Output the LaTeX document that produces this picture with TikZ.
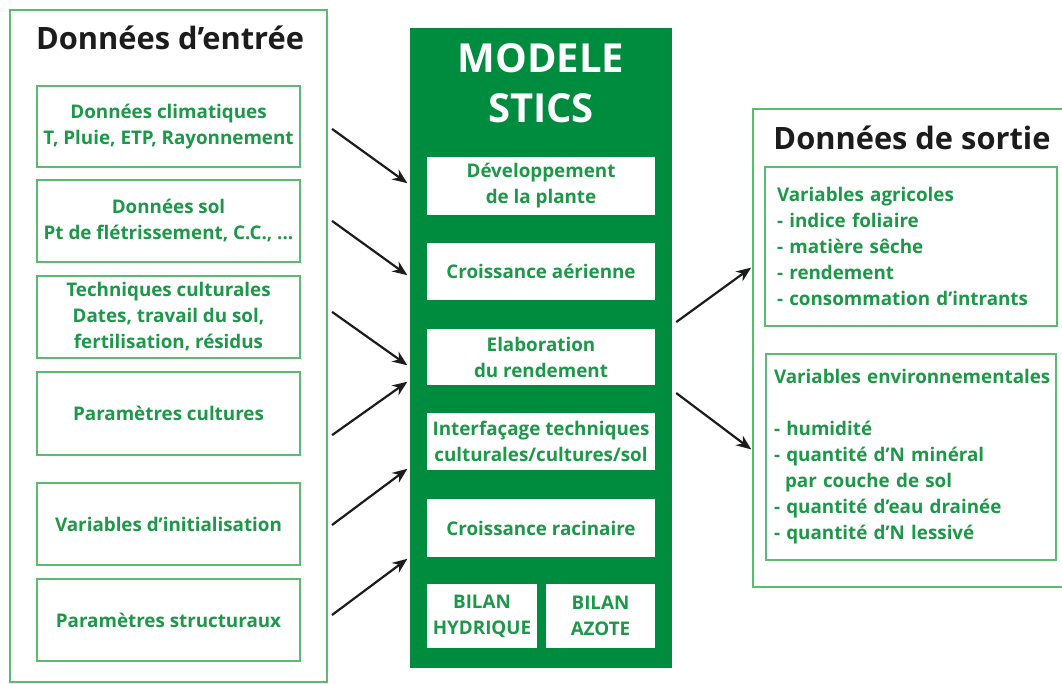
\documentclass[tikz,border=0pt]{standalone}
\usepackage{fontspec}
\setmainfont{Open Sans}
\usetikzlibrary{arrows.meta}
\definecolor{dgreen}{RGB}{0,140,62}
\definecolor{tgreen}{RGB}{28,152,72}
\definecolor{lgreen}{RGB}{90,188,112}
\definecolor{ink}{RGB}{28,28,28}
\tikzset{
  outerbox/.style={draw=lgreen, line width=2pt, rectangle, inner sep=0pt},
  inbox/.style={draw=lgreen, line width=1.4pt, fill=white, text=tgreen, rectangle, inner sep=0pt,
    font=\bfseries\fontsize{18.8}{26}\selectfont, align=center},
  modbox/.style={fill=white, text=tgreen, rectangle, inner sep=0pt,
    font=\bfseries\fontsize{18.8}{26}\selectfont, align=center},
  headtxt/.style={text=ink, font=\bfseries\fontsize{30.8}{34}\selectfont, inner sep=0pt},
  arr/.style={draw=ink, line width=2.2pt, -{Stealth[length=15pt,width=12pt]}},
}
\begin{document}
\begin{tikzpicture}[x=1pt,y=-1pt]
\useasboundingbox (0,0) rectangle (1062,684);
\fill[white] (0,0) rectangle (1062,684);

% input column
\node[outerbox, minimum width=317pt, minimum height=672pt] (L) at (168.5,346) {};
\node[headtxt] (TL) at (170,38) {Données d’entrée};
\node[inbox, minimum width=263pt, minimum height=81pt] (B1) at (168.5,126.5) {Données climatiques\\T, Pluie, ETP, Rayonnement};
\node[inbox, minimum width=263pt, minimum height=82pt] (B2) at (168.5,221) {Données sol\\Pt de flétrissement, C.C., ...};
\node[inbox, minimum width=263pt, minimum height=82pt] (B3) at (168.5,317) {Techniques culturales\\Dates, travail du sol,\\fertilisation, résidus};
\node[inbox, minimum width=263pt, minimum height=83pt] (B4) at (168.5,413.5) {Paramètres cultures};
\node[inbox, minimum width=263pt, minimum height=82pt] (B5) at (168.5,524) {Variables d’initialisation};
\node[inbox, minimum width=263pt, minimum height=82pt] (B6) at (168.5,620) {Paramètres structuraux};

% model
\node[fill=dgreen, rectangle, inner sep=0pt, minimum width=262pt, minimum height=640pt] (M) at (541,348) {};
\node[text=white, font=\bfseries\fontsize{40}{50}\selectfont, align=center, inner sep=0pt] (TM) at (541,83) {MODELE\\STICS};
\node[modbox, minimum width=228pt, minimum height=58pt] (D1) at (541,186) {Développement\\de la plante};
\node[modbox, minimum width=228pt, minimum height=57pt] (D2) at (541,271.5) {Croissance aérienne};
\node[modbox, minimum width=228pt, minimum height=56pt] (D3) at (541,357) {Elaboration\\du rendement};
\node[modbox, minimum width=228pt, minimum height=57pt] (D4) at (541,441.5) {Interfaçage techniques\\culturales/cultures/sol};
\node[modbox, minimum width=228pt, minimum height=58pt] (D5) at (541,528) {Croissance racinaire};
\node[modbox, minimum width=110pt, minimum height=64pt] (BH) at (482,616) {BILAN\\HYDRIQUE};
\node[modbox, minimum width=109pt, minimum height=64pt] (BA) at (600.5,616) {BILAN\\AZOTE};

% output column
\node[outerbox, minimum width=311pt, minimum height=478pt] (R) at (908.5,348) {};
\node[headtxt] (TR) at (912,138) {Données de sortie};
\node[inbox, align=left, inner xsep=12pt, text width=268pt, minimum height=159pt] (A1) at (911,246.5)
  {\mbox{Variables agricoles}\\\mbox{- indice foliaire}\\\mbox{- matière sêche}\\\mbox{- rendement}\\\mbox{- consommation d’intrants}};
\node[inbox, align=left, inner xsep=8pt, text width=274pt, minimum height=206pt] (A2) at (911,457)
  {\mbox{Variables environnementales}\\~\\\mbox{- humidité}\\\mbox{- quantité d’N minéral}\\\mbox{\hspace*{11pt}par couche de sol}\\\mbox{- quantité d’eau drainée}\\\mbox{- quantité d’N lessivé}};

% arrows in
\draw[arr, shorten <=5pt, shorten >=3pt] (L.east |- 0,126) -- (M.west |- 0,185);
\draw[arr, shorten <=5pt, shorten >=3pt] (L.east |- 0,218) -- (M.west |- 0,277);
\draw[arr, shorten <=5pt, shorten >=3pt] (L.east |- 0,309) -- (M.west |- 0,367);
\draw[arr, shorten <=5pt, shorten >=3pt] (L.east |- 0,438) -- (M.west |- 0,380);
\draw[arr, shorten <=5pt, shorten >=3pt] (L.east |- 0,528) -- (M.west |- 0,467);
\draw[arr, shorten <=5pt, shorten >=3pt] (L.east |- 0,618) -- (M.west |- 0,557);
% arrows out
\draw[arr, shorten <=5pt, shorten >=1pt] (M.east |- 0,325) -- (R.west |- 0,267);
\draw[arr, shorten <=5pt, shorten >=1pt] (M.east |- 0,390) -- (R.west |- 0,450);
\end{tikzpicture}
\end{document}
